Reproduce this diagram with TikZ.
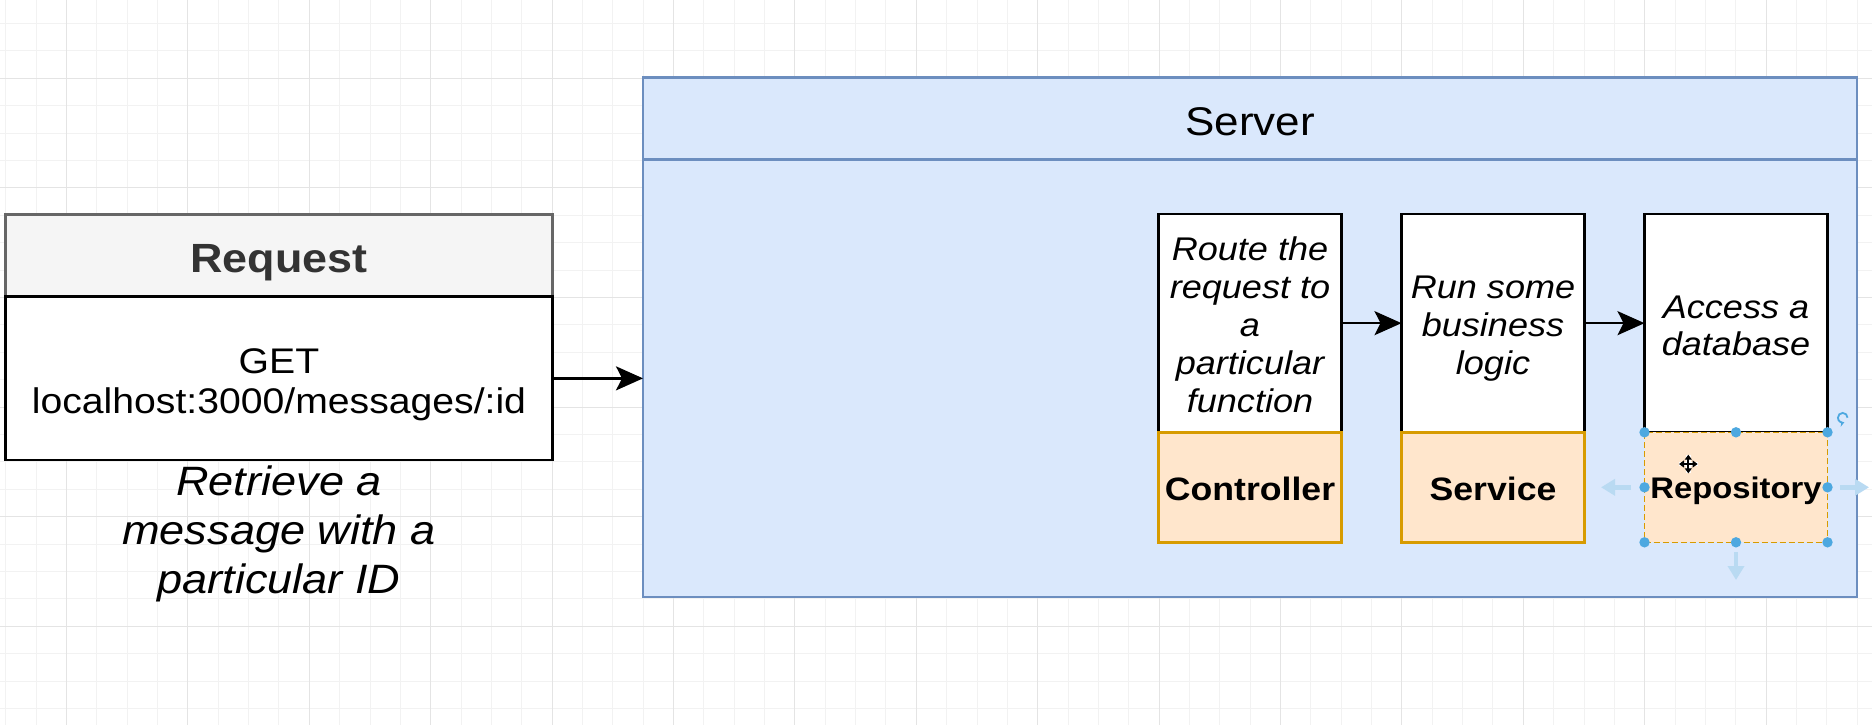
\documentclass[tikz,border=0pt]{standalone}
\usepackage{fontspec}
\setmainfont{Liberation Sans}
\usepackage{graphicx}
\usetikzlibrary{arrows.meta}
\definecolor{srvfill}{HTML}{DAE8FC}
\definecolor{srvline}{HTML}{6C8EBF}
\definecolor{reqheadfill}{HTML}{F5F5F5}
\definecolor{reqline}{HTML}{666666}
\definecolor{reqtext}{HTML}{333333}
\definecolor{orfill}{HTML}{FFE6CC}
\definecolor{orline}{HTML}{D79B00}
\definecolor{gridminor}{HTML}{F2F2F2}
\definecolor{gridmajor}{HTML}{E4E4E4}
\definecolor{handle}{RGB}{77,168,224}
\definecolor{handlelight}{RGB}{185,218,242}
\newcommand\sxtext[1]{\scalebox{1.1}[1]{#1}}
\newcommand\sxlines[1]{\scalebox{1.1}[1]{\begin{tabular}{@{}c@{}}#1\end{tabular}}}
\begin{document}
\begin{tikzpicture}[x=0.5pt,y=-0.5pt,
  box/.style={anchor=north west, inner sep=0pt, outer sep=0pt},
  reqheadbox/.style={box, fill=reqheadfill, draw=reqline, line width=1.3pt},
  reqbodybox/.style={box, fill=white, draw=black, line width=1.3pt},
  srvbox/.style={box, fill=srvfill, draw=srvline, line width=1.3pt},
  colbox/.style={box, fill=white, draw=black, line width=1.4pt, minimum width=183*0.5pt, minimum height=218.3*0.5pt},
  orbox/.style={box, fill=orfill, draw=orline, line width=1.3pt, minimum width=183*0.5pt, minimum height=110*0.5pt},
  txt/.style={inner sep=0pt, outer sep=0pt},
  coltxt/.style={txt, font=\fontsize{16.4}{19.05}\selectfont\itshape},
  collabel/.style={txt, anchor=base, font=\fontsize{16.2}{19}\selectfont\bfseries},
  arr/.style={line width=1.15pt, -{Stealth[length=13.5pt,width=12pt,inset=3pt]}},
  harrow/.style={handlelight, line width=2.2pt, -{Triangle[length=7pt,width=8pt]}},
  cursorarrow/.style={black, line width=0.9pt, {Triangle[length=2.5pt,width=3.5pt]}-{Triangle[length=2.5pt,width=3.5pt]}}
]
\useasboundingbox (0,0) rectangle (1872,725);
\fill[white] (0,0) rectangle (1872,725);
% grid
\foreach \k in {0,...,61} {
  \pgfmathsetmacro\gx{5.8+30.35*\k}
  \draw[gridminor, line width=0.5pt] (\gx,0) -- (\gx,725);
}
\foreach \k in {-2,...,23} {
  \pgfmathsetmacro\gy{78.3+27.4*\k}
  \draw[gridminor, line width=0.5pt] (0,\gy) -- (1872,\gy);
}
\foreach \k in {0,...,15} {
  \pgfmathsetmacro\gx{66.5+121.4*\k}
  \draw[gridmajor, line width=0.5pt] (\gx,0) -- (\gx,725);
}
\foreach \k in {0,...,5} {
  \pgfmathsetmacro\gy{78.3+109.6*\k}
  \draw[gridmajor, line width=0.5pt] (0,\gy) -- (1872,\gy);
}

% Request
\node[reqheadbox, minimum width=547*0.5pt, minimum height=82.4*0.5pt] (reqhead) at (5.5,214.3) {};
\node[reqbodybox, minimum width=547*0.5pt, minimum height=163.3*0.5pt] (reqbody) at (5.5,296.7) {};
\node[txt, anchor=base, text=reqtext, font=\fontsize{20.4}{24}\selectfont\bfseries] (reqlabel) at (279,272.7) {\sxtext{Request}};
\node[txt, font=\fontsize{17.8}{20}\selectfont] (reqtxt) at (279,385.3) {\sxlines{GET\\localhost:3000/messages/:id}};
\node[txt, font=\fontsize{20.5}{24.5}\selectfont\itshape] (retr) at (279,534.2) {\sxlines{Retrieve a\\message with a\\particular ID}};

% Server
\node[srvbox, minimum width=1214*0.5pt, minimum height=82*0.5pt] (srvhead) at (643,77.3) {};
\node[srvbox, minimum width=1214*0.5pt, minimum height=437.6*0.5pt] (srvbody) at (643,159.3) {};
\node[txt, anchor=base, font=\fontsize{20}{24}\selectfont] (srvlabel) at (1250,135) {\sxtext{Server}};

% Columns
\node[colbox] (ctrltop) at (1158.3,214) {};
\node[orbox] (ctrlbot) at (1158.3,432.3) {};
\node[colbox] (svctop) at (1401.5,214) {};
\node[orbox] (svcbot) at (1401.5,432.3) {};
\node[colbox] (repotop) at (1644.5,214) {};
\node[orbox, line width=0.8pt, dash pattern=on 3pt off 1.5pt] (repobot) at (1644.5,432.3) {};

\node[coltxt] (ctrltxt) at (1250,328.6) {\sxlines{Route the\\request to\\a\\particular\\function}};
\node[coltxt] (svctxt) at (1493,328.8) {\sxlines{Run some\\business\\logic}};
\node[coltxt, font=\fontsize{16.4}{18.5}\selectfont\itshape] (repotxt) at (1736,329.4) {\sxlines{Access a\\database}};

\node[collabel] (ctrllabel) at (1250,500) {\sxtext{Controller}};
\node[collabel] (svclabel) at (1493,500) {\sxtext{Service}};
\node[collabel, font=\fontsize{14.9}{18}\selectfont\bfseries] (repolabel) at (1736,498.3) {\sxtext{Repository}};

% connectors
\draw[arr] (reqbody.east) -- (srvbody.west |- reqbody.east);
\draw[arr] (ctrltop.east) -- (svctop.west);
\draw[arr] (svctop.east) -- (repotop.west);

% selection handles on Repository
\foreach \p in {(1644.5,432.3),(1736,432.3),(1827.5,432.3),(1644.5,487.3),(1827.5,487.3),(1644.5,542.3),(1736,542.3),(1827.5,542.3)}
  \fill[handle] \p circle (2.6pt);
\draw[harrow] (1631,487.3) -- (1601,487.3);
\draw[harrow] (1840,487.3) -- (1869,487.3);
\draw[harrow] (1736,552) -- (1736,580);
\draw[handle, line width=0.9pt, -{Stealth[length=2.5pt,width=3pt]}] (1847.5,417.7) arc[start angle=0, end angle=290, radius=2.4pt];
% move cursor
\draw[white, line width=2.4pt] (1679,464) -- (1697.6,464) (1688.3,454.7) -- (1688.3,473.3);
\draw[cursorarrow] (1679,464) -- (1697.6,464);
\draw[cursorarrow] (1688.3,454.7) -- (1688.3,473.3);
\end{tikzpicture}
\end{document}
